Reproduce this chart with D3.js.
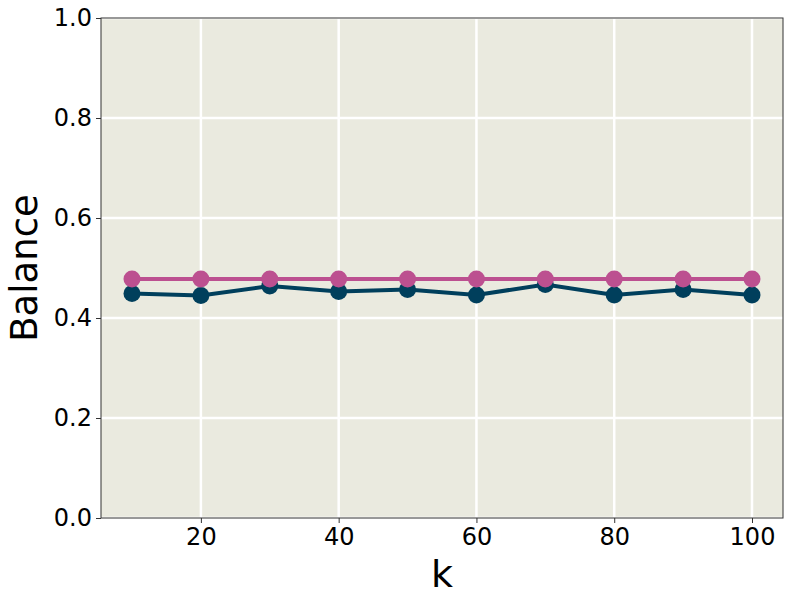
<!DOCTYPE html>
<html>
<head>
<meta charset="utf-8">
<script src="https://d3js.org/d3.v7.min.js"></script>
<style>
  body { margin: 0; background: #fff; }
  text { font-family: "DejaVu Sans", sans-serif; fill: #000; }
</style>
</head>
<body>
<div id="chart"></div>
<script>
// data
var kValues = [10, 20, 30, 40, 50, 60, 70, 80, 90, 100];
var seriesDark = [0.449, 0.445, 0.464, 0.453, 0.457, 0.446, 0.467, 0.446, 0.457, 0.446];
var seriesPink = [0.478, 0.478, 0.478, 0.478, 0.478, 0.478, 0.478, 0.478, 0.478, 0.478];
var xTicks = [20, 40, 60, 80, 100];
var yTicks = [0, 0.2, 0.4, 0.6, 0.8, 1.0];

var W = 793, H = 604;
var margin = {top: 18, right: 10, bottom: 86, left: 101};
var width = W - margin.left - margin.right,
    height = H - margin.top - margin.bottom;

var svg = d3.select("#chart").append("svg")
    .attr("width", W).attr("height", H);
var g = svg.append("g")
    .attr("transform", "translate(" + margin.left + "," + margin.top + ")");

var x = d3.scaleLinear().domain([5.5, 104.5]).range([0, width]);
var y = d3.scaleLinear().domain([0, 1]).range([height, 0]);

// background
g.append("rect")
  .attr("width", width).attr("height", height)
  .attr("fill", "#eaeadf");

// grid
g.selectAll(".gx").data(xTicks).enter().append("line")
  .attr("x1", function(d) { return x(d); }).attr("x2", function(d) { return x(d); })
  .attr("y1", 0).attr("y2", height)
  .attr("stroke", "#fff").attr("stroke-width", 2.5);
g.selectAll(".gy").data(yTicks).enter().append("line")
  .attr("y1", function(d) { return y(d); }).attr("y2", function(d) { return y(d); })
  .attr("x1", 0).attr("x2", width)
  .attr("stroke", "#fff").attr("stroke-width", 2.5);

// axes
var xAxis = g.append("g")
  .attr("transform", "translate(0," + height + ")")
  .call(d3.axisBottom(x).tickValues(xTicks).tickSize(5).tickPadding(5).tickFormat(d3.format("d")));
var yAxis = g.append("g")
  .call(d3.axisLeft(y).tickValues(yTicks).tickSize(5).tickPadding(4).tickFormat(d3.format(".1f")));
[xAxis, yAxis].forEach(function(a) {
  a.select(".domain").remove();
  a.selectAll("line").attr("stroke", "#333").attr("stroke-width", 1);
  a.selectAll("text").style("font-size", "24px").style("font-family", "DejaVu Sans").attr("fill", "#000");
});

// frame
g.append("rect")
  .attr("width", width).attr("height", height)
  .attr("fill", "none").attr("stroke", "#333").attr("stroke-width", 1);

// lines
function drawSeries(vals, color) {
  var pts = kValues.map(function(k, i) { return [k, vals[i]]; });
  g.append("path").datum(pts)
    .attr("fill", "none").attr("stroke", color).attr("stroke-width", 4)
    .attr("d", d3.line().x(function(d) { return x(d[0]); }).y(function(d) { return y(d[1]); }));
  g.selectAll(null).data(pts).enter().append("circle")
    .attr("cx", function(d) { return x(d[0]); })
    .attr("cy", function(d) { return y(d[1]); })
    .attr("r", 8.5).attr("fill", color);
}
drawSeries(seriesDark, "#003f5c");
drawSeries(seriesPink, "#bc5090");

// labels
svg.append("text")
  .attr("x", margin.left + width / 2).attr("y", 587)
  .attr("text-anchor", "middle").style("font-size", "38px").text("k");
svg.append("text")
  .attr("transform", "translate(37," + (margin.top + height / 2) + ") rotate(-90)")
  .attr("text-anchor", "middle").style("font-size", "37px").text("Balance");
</script>
</body>
</html>
